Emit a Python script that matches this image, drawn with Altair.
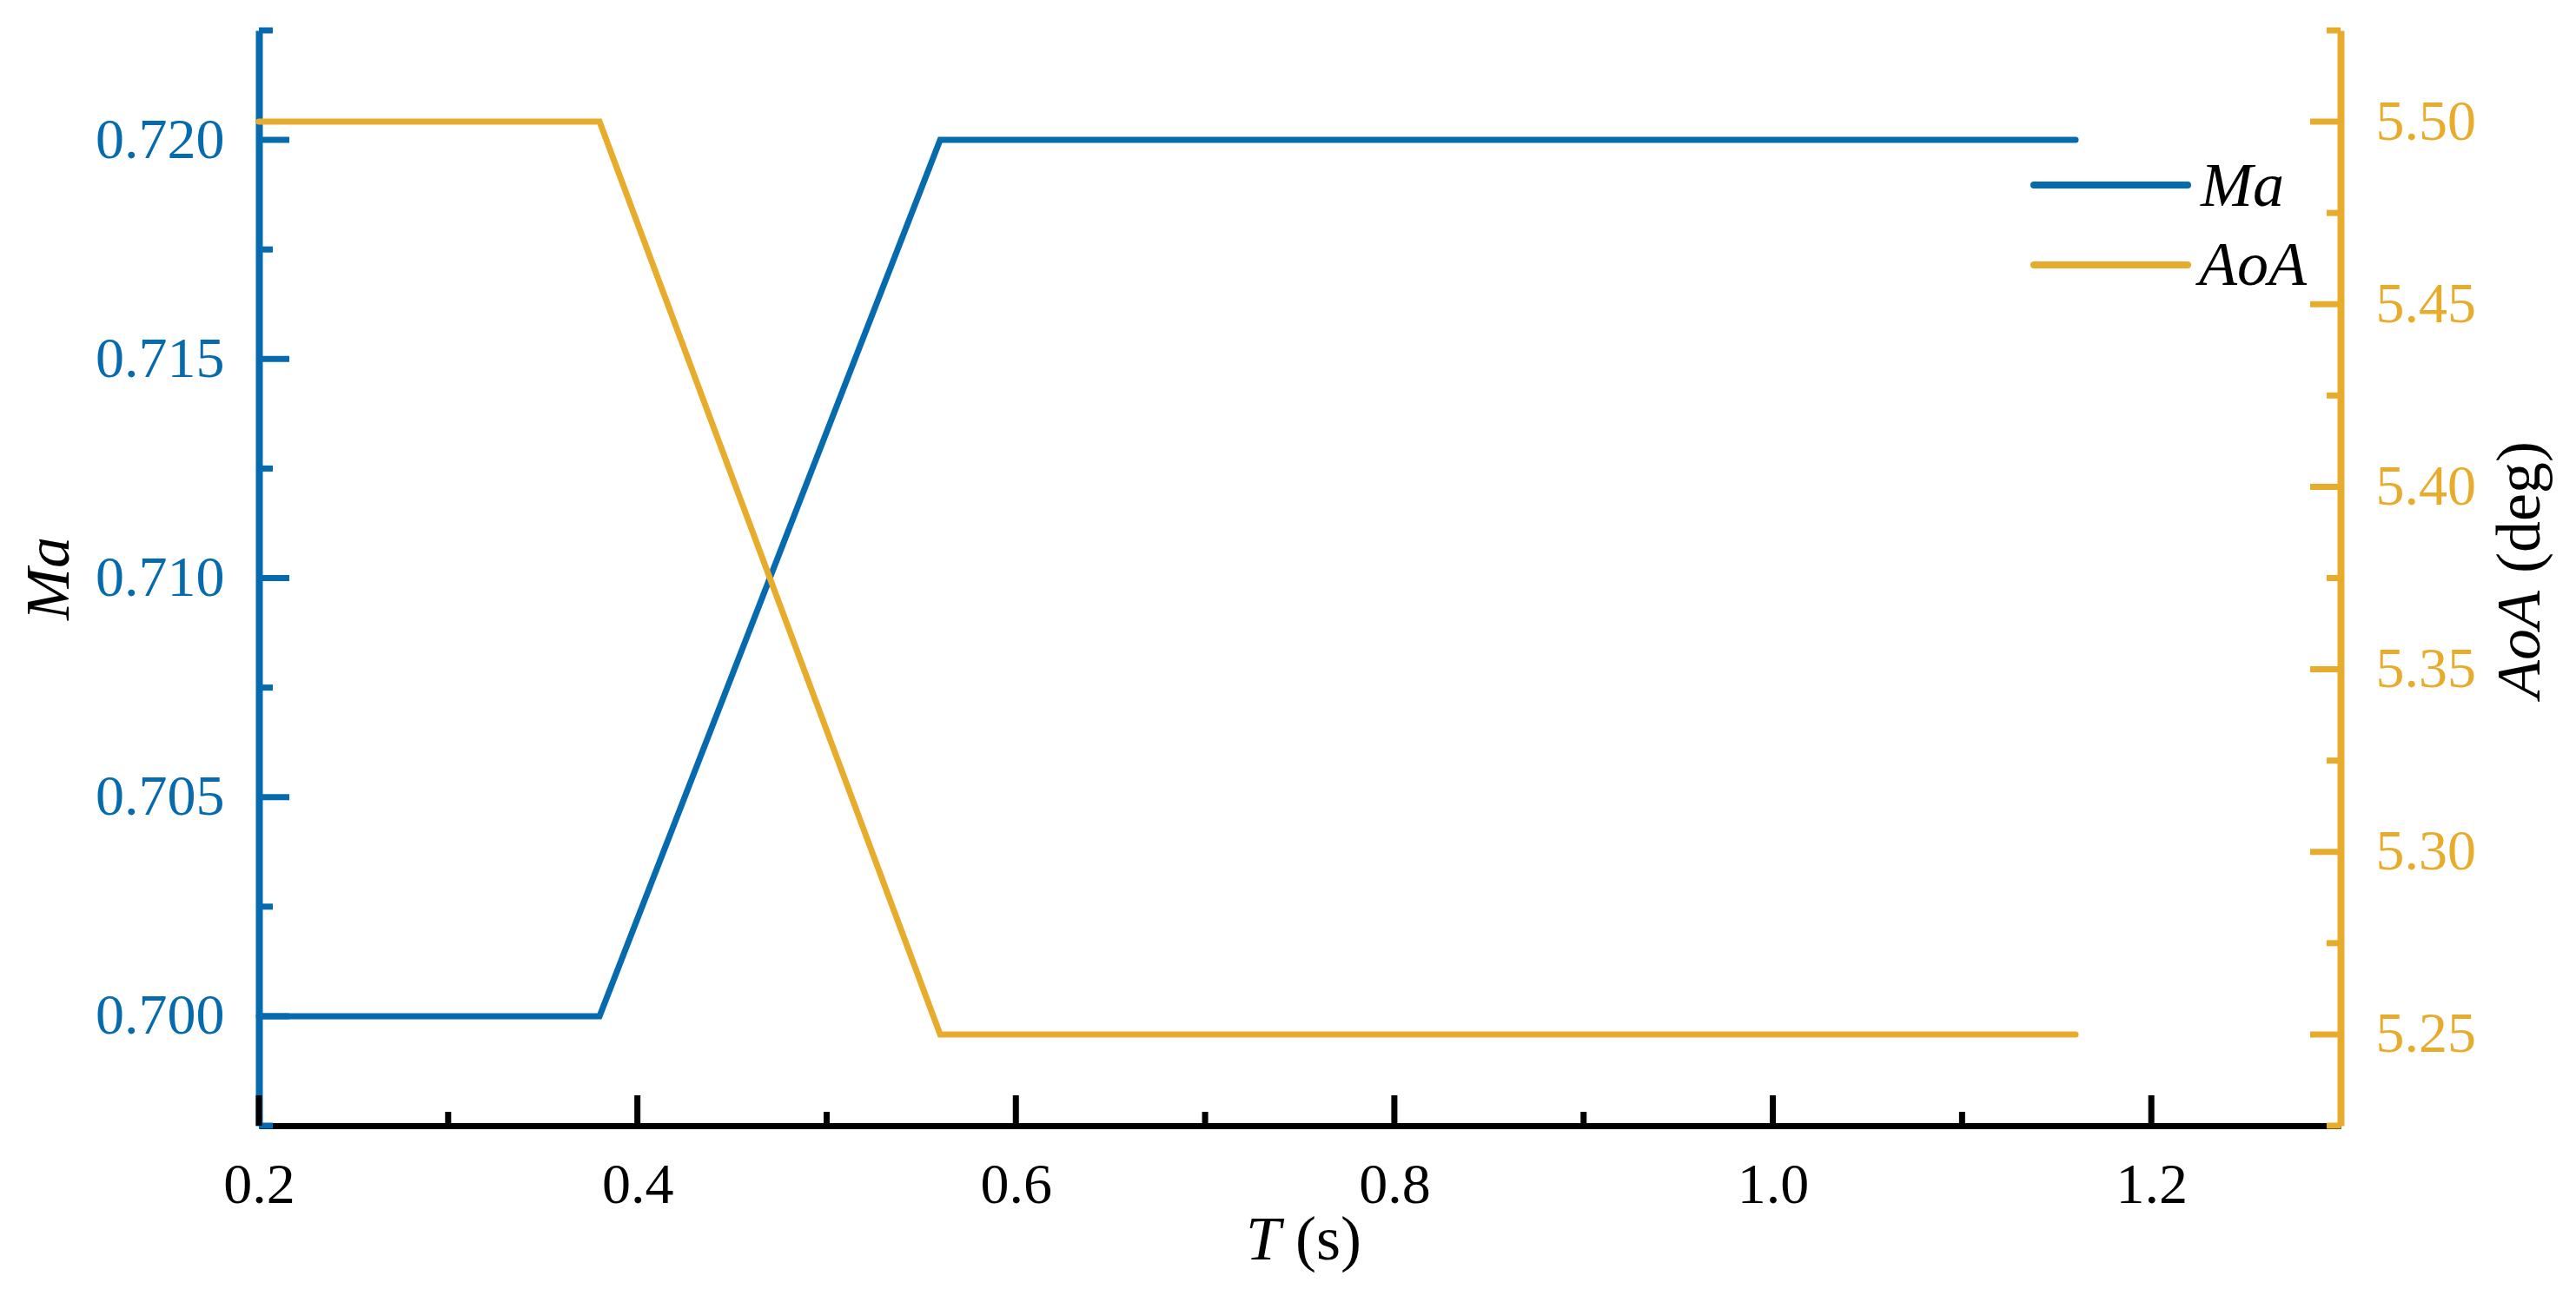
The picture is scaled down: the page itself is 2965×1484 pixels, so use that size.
import altair as alt
import pandas as pd

# ---- data ----
t_vals = [0.2, 0.38, 0.56, 1.16]
ma_vals = [0.700, 0.700, 0.720, 0.720]
aoa_vals = [5.50, 5.50, 5.25, 5.25]

x_major = [0.2, 0.4, 0.6, 0.8, 1.0, 1.2]
x_minor = [0.3, 0.5, 0.7, 0.9, 1.1]
ma_major = [0.700, 0.705, 0.710, 0.715, 0.720]
ma_minor = [0.6975, 0.7025, 0.7075, 0.7125, 0.7175, 0.7225]
aoa_major = [5.25, 5.30, 5.35, 5.40, 5.45, 5.50]
aoa_minor = [5.225, 5.275, 5.325, 5.375, 5.425, 5.475, 5.525]

legend_labels = ["Ma", "AoA"]

BLUE = "#066AAE"
GOLD = "#E8AC2C"
FONT = "Liberation Serif"

W, H = 2396, 1261
MAJ, MIN = 35, 16
LW = 7

df = pd.DataFrame({"T": t_vals, "Ma": ma_vals, "AoA": aoa_vals})

x_scale = alt.Scale(domain=[0.2, 1.3], nice=False, zero=False)
x_axis = alt.Axis(orient="bottom", values=x_major, format=".1f", title=None, grid=False,
                  ticks=False, tickSize=0, domainColor="black", domainWidth=7,
                  labelFont=FONT, labelFontSize=66, labelColor="black", labelPadding=36,
                  labelFlush=False)
ma_scale = alt.Scale(domain=[0.6975, 0.7225], nice=False, zero=False)
ma_axis = alt.Axis(orient="left", values=ma_major, format=".3f", title=None, grid=False,
                   ticks=False, tickSize=0, domainColor=BLUE, domainWidth=8,
                   labelFont=FONT, labelFontSize=66, labelColor=BLUE, labelPadding=40,
                   labelFlush=False)
aoa_scale = alt.Scale(domain=[5.225, 5.525], nice=False, zero=False)
aoa_axis = alt.Axis(orient="right", values=aoa_major, format=".2f", title=None, grid=False,
                    ticks=False, tickSize=0, domainColor=GOLD, domainWidth=8,
                    labelFont=FONT, labelFontSize=66, labelColor=GOLD, labelPadding=40,
                    labelFlush=False)

X = alt.X("T:Q", scale=x_scale, axis=x_axis)

ma_line = alt.Chart(df).mark_line(color=BLUE, strokeWidth=LW, strokeCap="round").encode(
    x=X, y=alt.Y("Ma:Q", scale=ma_scale, axis=ma_axis))
aoa_line = alt.Chart(df).mark_line(color=GOLD, strokeWidth=LW, strokeCap="round").encode(
    x=X, y=alt.Y("AoA:Q", scale=aoa_scale, axis=aoa_axis))

# inward ticks
def yticks(vals, field, scale, axis, color, length, right):
    d = pd.DataFrame({field: vals})
    if right:
        xx = dict(x=alt.value(W), x2=alt.value(W - length))
    else:
        xx = dict(x=alt.value(0), x2=alt.value(length))
    return alt.Chart(d).mark_rule(color=color, strokeWidth=7).encode(
        y=alt.Y(f"{field}:Q", scale=scale, axis=axis), **xx)

def xticks(vals, length):
    d = pd.DataFrame({"T": vals})
    return alt.Chart(d).mark_rule(color="black", strokeWidth=7).encode(
        x=X, y=alt.value(H), y2=alt.value(H - length))

def txt(s, x, y, style="normal", align="left", angle=0, size=72):
    d = pd.DataFrame({"s": [s]})
    return alt.Chart(d).mark_text(font=FONT, fontSize=size, fontStyle=style, align=align,
                                  baseline="alphabetic", angle=angle, color="black").encode(
        x=alt.value(x), y=alt.value(y), text="s:N")

def leg_line(color, y):
    d = pd.DataFrame({"c": [color]})
    return alt.Chart(d).mark_rule(color=color, strokeWidth=8, strokeCap="round").encode(
        x=alt.value(2043), x2=alt.value(2220), y=alt.value(y))

left = alt.layer(
    ma_line,
    yticks(ma_major, "Ma", ma_scale, ma_axis, BLUE, MAJ, False),
    yticks(ma_minor, "Ma", ma_scale, ma_axis, BLUE, MIN, False),
    xticks(x_major, MAJ),
    xticks(x_minor, MIN),
    txt("T", 1176, 1415, style="italic", align="right"),
    txt("(s)", 1193, 1415),
    txt("Ma", -219, 631, style="italic", align="center", angle=270),
    txt("AoA", 2625, 645, style="italic", align="right", angle=270),
    txt("(deg)", 2625, 625, align="left", angle=270),
    leg_line(BLUE, 178),
    leg_line(GOLD, 270),
    txt(legend_labels[0], 2235, 202, style="italic"),
    txt(legend_labels[1], 2233, 293, style="italic"),
)
right = alt.layer(
    aoa_line,
    yticks(aoa_major, "AoA", aoa_scale, aoa_axis, GOLD, MAJ, True),
    yticks(aoa_minor, "AoA", aoa_scale, aoa_axis, GOLD, MIN, True),
)

chart = alt.layer(left, right).resolve_scale(y="independent").properties(
    width=W, height=H,
    padding={"left": 290, "top": 27, "right": 250, "bottom": 180},
    autosize=alt.AutoSizeParams(type="none"),
    background="white",
).configure_view(stroke=None)

chart.save("out.html", embed_options={"renderer": "svg", "actions": False})
